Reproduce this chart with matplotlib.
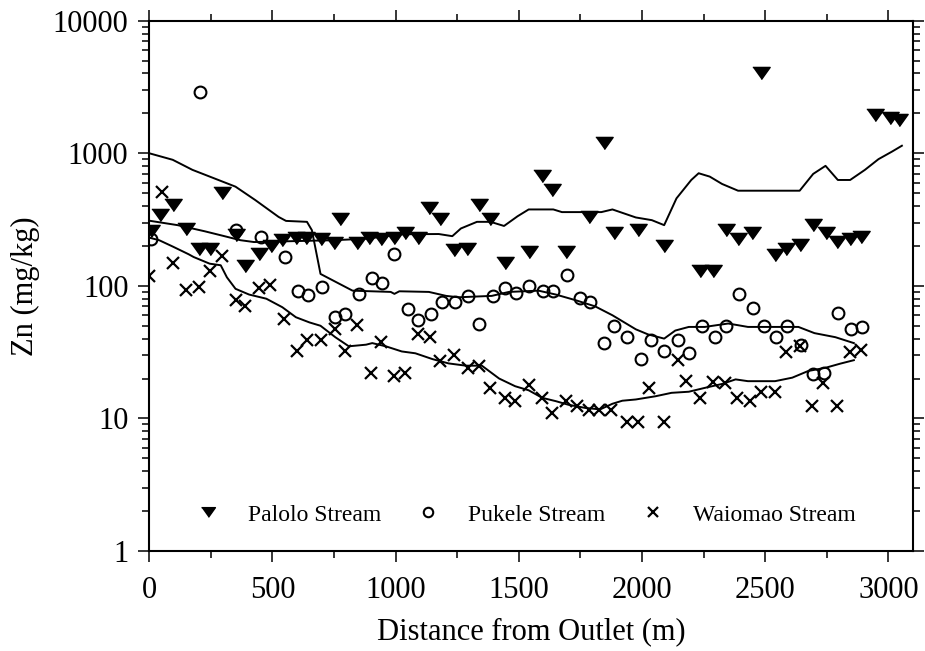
import numpy as np
import matplotlib
matplotlib.use("Agg")
import matplotlib.pyplot as plt
from matplotlib.ticker import MultipleLocator, LogLocator, NullFormatter

plt.rcParams['font.family'] = ['Liberation Serif', 'DejaVu Serif']

palolo_d = [5, 45, 95, 150, 200, 245, 295, 350, 390, 445,
            495, 540, 595, 635, 695, 750, 775, 845, 890, 940,
            995, 1040, 1090, 1135, 1180, 1235, 1290, 1340, 1385, 1445,
            1540, 1595, 1635, 1690, 1785, 1845, 1885, 1985, 2090, 2235,
            2290, 2340, 2390, 2445, 2485, 2540, 2585, 2640, 2695, 2745,
            2790, 2845, 2890, 2945, 3005, 3045]
palolo_zn = [260, 340, 405, 270, 190, 190, 500, 240, 140, 175,
             200, 220, 230, 230, 225, 210, 320, 210, 230, 225,
             230, 250, 230, 385, 320, 185, 190, 405, 320, 150,
             180, 670, 530, 180, 330, 1200, 250, 265, 200, 130,
             130, 265, 225, 250, 4000, 170, 190, 205, 290, 250,
             215, 225, 235, 1950, 1850, 1780]

pukele_d = [5, 205, 350, 455, 550, 605, 645, 700, 755, 795,
            850, 905, 945, 995, 1050, 1090, 1145, 1190, 1240, 1295,
            1340, 1395, 1445, 1490, 1540, 1600, 1640, 1695, 1750, 1790,
            1845, 1885, 1940, 1995, 2035, 2090, 2145, 2190, 2245, 2295,
            2340, 2395, 2450, 2495, 2545, 2590, 2645, 2695, 2740, 2795,
            2850, 2895]
pukele_zn = [225, 2900, 265, 235, 165, 92, 85, 98, 58, 61,
             87, 115, 105, 175, 67, 55, 61, 76, 75, 84,
             52, 84, 97, 88, 100, 92, 91, 120, 81, 75,
             37, 50, 41, 28, 39, 32, 39, 31, 50, 41,
             50, 87, 68, 50, 41, 50, 36, 21.5, 22, 62,
             47, 49]

waiomao_d = [0, 50, 95, 150, 200, 245, 295, 350, 390, 445,
             490, 545, 600, 640, 695, 755, 795, 845, 900, 940,
             995, 1040, 1090, 1140, 1180, 1235, 1295, 1340, 1385, 1445,
             1485, 1540, 1595, 1635, 1690, 1735, 1785, 1825, 1875, 1940,
             1985, 2030, 2090, 2145, 2180, 2235, 2290, 2335, 2385, 2440,
             2485, 2540, 2585, 2640, 2690, 2735, 2790, 2845, 2890]
waiomao_zn = [119, 510, 148, 93, 98, 129, 167, 78, 70, 96,
              102, 56, 32, 39, 39, 47, 32, 51, 22, 38,
              21, 22, 43, 41, 27, 30, 24, 25, 17, 14.3,
              13.6, 18, 14.3, 11, 13.6, 12.5, 11.5, 11.5, 11.5, 9.4,
              9.4, 17, 9.4, 27.5, 19, 14.3, 18.8, 18.4, 14.3, 13.6,
              15.8, 15.8, 31.6, 35, 12.4, 18.6, 12.4, 31.8, 32.7]

# smoothed trend lines
palolo_fit_d = [0, 115, 225, 305, 370, 425, 750, 885, 1020, 1175,
                1230, 1265, 1330, 1385, 1440, 1495, 1540, 1640, 1675, 1835,
                1880, 1975, 2040, 2090, 2140, 2200, 2230, 2275, 2325, 2390,
                2640, 2695, 2745, 2795, 2845, 2905, 2960, 3015, 3055]
palolo_fit_zn = [310, 287, 258, 237, 221, 214, 221, 227, 245, 246,
                 237, 271, 304, 304, 283, 335, 377, 377, 360, 360,
                 377, 328, 313, 287, 457, 629, 707, 667, 587, 522,
                 522, 699, 804, 629, 629, 750, 903, 1030, 1140]

pukele_fit_d = [0, 95, 175, 350, 430, 525, 555, 640, 660, 695,
                770, 825, 980, 995, 1015, 1135, 1205, 1255, 1390, 1460,
                1580, 1650, 1730, 1810, 1880, 1975, 2025, 2090, 2135, 2190,
                2255, 2350, 2430, 2485, 2635, 2700, 2785, 2860]
pukele_fit_zn = [1000, 893, 750, 560, 444, 331, 309, 304, 263, 123,
                 104, 92, 90, 87, 91, 90, 84, 82, 84, 90,
                 92, 86, 78, 70, 60, 47, 43, 40, 46, 49,
                 49, 52, 49, 49, 49, 44, 41, 37]

waiomao_fit_d = [0, 40, 95, 160, 180, 245, 290, 315, 350, 405,
                 475, 540, 595, 650, 695, 755, 810, 880, 905, 960,
                 1025, 1080, 1150, 1215, 1285, 1350, 1420, 1485, 1540, 1595,
                 1650, 1700, 1770, 1830, 1880, 1920, 1975, 2055, 2120, 2190,
                 2255, 2325, 2380, 2430, 2540, 2610, 2675, 2745, 2805, 2860]
waiomao_fit_zn = [231, 221, 198, 173, 165, 147, 143, 116, 95, 86,
                  80, 69, 58, 53, 50, 41, 35, 36, 37, 35,
                  32, 31, 28, 26, 25, 25, 20, 17.5, 16.3, 14.3,
                  13.5, 12.7, 12, 11.7, 12.9, 13.6, 13.9, 14.7, 15.6, 15.9,
                  17, 18.2, 19.7, 19.1, 19.1, 20.3, 22.8, 24.1, 25.9, 27.5]

tri = [(-1, 0.7), (1, 0.7), (0, -0.7)]

fig = plt.figure(figsize=(9.25, 6.51), dpi=100)
ax = fig.add_axes([0.1614, 0.1536, 0.8256, 0.8146])

for d, z in [(palolo_fit_d, palolo_fit_zn), (pukele_fit_d, pukele_fit_zn),
             (waiomao_fit_d, waiomao_fit_zn)]:
    ax.plot(d, z, color='black', lw=1.4)

ax.plot(palolo_d, palolo_zn, ls='none', marker=tri, ms=12.5, color='black',
        label='Palolo Stream')
ax.plot(pukele_d, pukele_zn, ls='none', marker='o', ms=8.5, mfc='none',
        mec='black', mew=1.5, label='Pukele Stream')
ax.plot(waiomao_d, waiomao_zn, ls='none', marker='x', ms=8.5, color='black',
        mew=1.6, label='Waiomao Stream')

ax.set_yscale('log')
ax.set_xlim(0, 3100)
ax.set_ylim(1, 10000)
ax.set_yticks([1, 10, 100, 1000, 10000])
ax.set_yticklabels(['1', '10', '100', '1000', '10000'])
ax.yaxis.set_minor_locator(LogLocator(base=10, subs=np.arange(2, 10)))
ax.yaxis.set_minor_formatter(NullFormatter())
ax.set_xticks([0, 500, 1000, 1500, 2000, 2500, 3000])
ax.xaxis.set_minor_locator(MultipleLocator(250))

ax.tick_params(which='both', direction='out', top=True, right=True,
               width=1.1, labelsize=22)
ax.tick_params(which='major', length=8)
ax.tick_params(which='minor', length=5)
ax.tick_params(axis='x', which='major', pad=10)
ax.tick_params(axis='y', which='major', pad=7)
for s in ax.spines.values():
    s.set_linewidth(1.5)

ax.set_xlabel('Distance from Outlet (m)', fontsize=22, labelpad=9)
ax.set_ylabel('Zn (mg/kg)', fontsize=22, labelpad=9)

ax.legend(loc='center', bbox_to_anchor=(0.493, 0.068), ncol=3, frameon=False,
          fontsize=17, markerscale=0.8, handlelength=1.0,
          handletextpad=1.2, columnspacing=1.5)

plt.savefig('out.png', dpi=100)
